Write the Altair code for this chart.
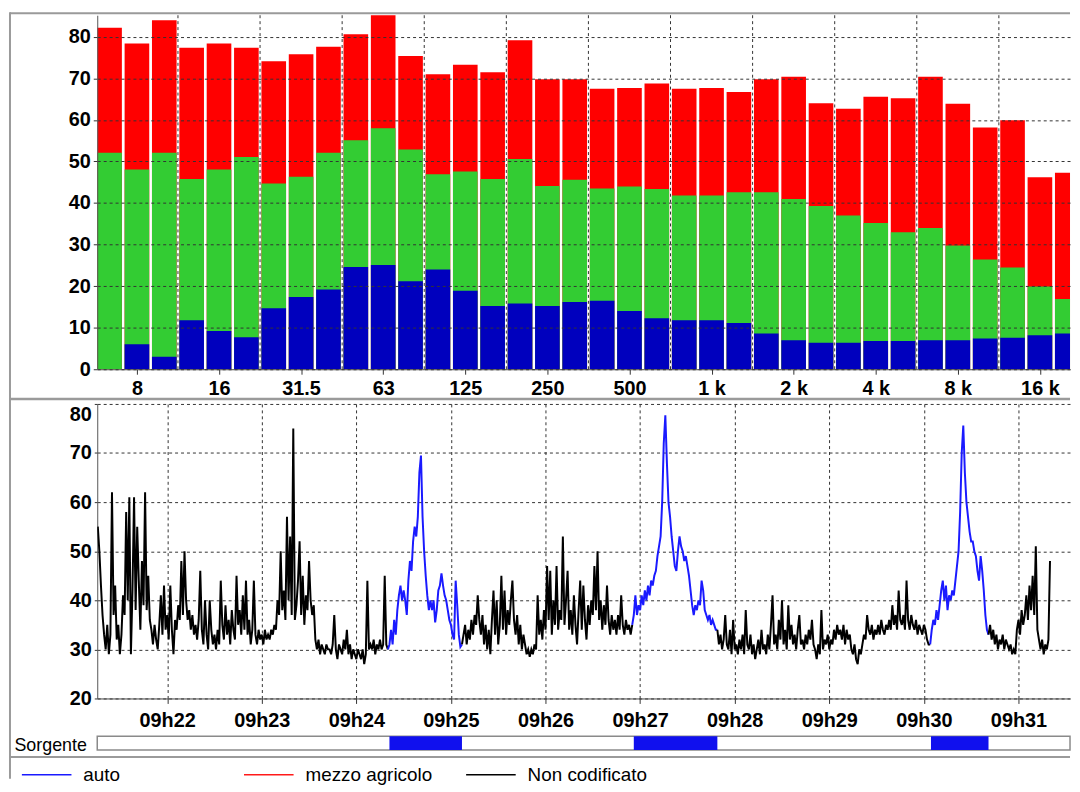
import json
import altair as alt
import pandas as pd

FONT = "Liberation Sans"
FRAME = "#9a9a9a"
GRID = "#333333"

# ---------------- top panel: 1/3 octave spectrum ----------------
band_labels = ["6.3", "8", "10", "12.5", "16", "20", "25", "31.5", "40", "50", "63", "80",
               "100", "125", "160", "200", "250", "315", "400", "500", "630", "800", "1 k",
               "1.25 k", "1.6 k", "2 k", "2.5 k", "3.15 k", "4 k", "5 k", "6.3 k", "8 k",
               "10 k", "12.5 k", "16 k", "20 k"]
spectrum_red = [82.2, 78.4, 84.0, 77.4, 78.4, 77.4, 74.1, 75.8, 77.6, 80.6, 86.0, 75.4,
                71.0, 73.3, 71.5, 79.2, 69.8, 69.8, 67.5, 67.7, 68.8, 67.5, 67.7, 66.7,
                69.8, 70.4, 64.0, 62.7, 65.6, 65.2, 70.4, 63.9, 58.2, 59.9, 46.2, 47.3]
spectrum_green = [52.1, 48.1, 52.1, 45.8, 48.1, 51.1, 44.7, 46.3, 52.1, 55.1, 58.0, 52.9,
                  46.9, 47.6, 45.8, 50.6, 44.1, 45.6, 43.5, 44.0, 43.4, 41.8, 41.8, 42.6,
                  42.6, 41.0, 39.3, 37.0, 35.2, 33.0, 34.0, 29.8, 26.4, 24.5, 19.9, 16.9]
spectrum_blue = [0.0, 6.0, 3.0, 11.8, 9.2, 7.7, 14.7, 17.4, 19.2, 24.6, 25.1, 21.2,
                 24.0, 18.9, 15.2, 15.8, 15.2, 16.2, 16.5, 14.0, 12.3, 11.8, 11.8, 11.1,
                 8.6, 7.0, 6.4, 6.4, 6.8, 6.8, 7.0, 7.0, 7.4, 7.6, 8.2, 8.6]
tick_index = [1, 4, 7, 10, 13, 16, 19, 22, 25, 28, 31, 34]
group_grid = [2.5, 5.5, 8.5, 11.5, 14.5, 17.5, 20.5, 23.5, 26.5, 29.5, 32.5]
spec_y_ticks = [0, 10, 20, 30, 40, 50, 60, 70, 80]

# ---------------- bottom panel: time history (1 s, from 09:21:16) ----------------
start_s = 16
level_db = [
    55, 50, 43, 37, 33, 30, 35, 29, 33, 62,
    37, 43, 32, 35, 29, 33, 41, 37, 58, 40,
    61, 29, 42, 61, 38, 55, 44, 34, 48, 39,
    62, 38, 45, 36, 34, 31, 35, 32, 30, 35,
    41, 33, 43, 34, 37, 32, 43, 34, 29, 36,
    34, 39, 36, 48, 37, 50, 40, 36, 38, 34,
    37, 33, 35, 32, 36, 46, 34, 31, 40, 33,
    30, 40, 34, 31, 33, 30, 34, 31, 44, 35,
    32, 39, 33, 36, 31, 38, 34, 32, 45, 35,
    38, 33, 41, 34, 44, 33, 36, 31, 34, 44,
    33, 31, 34, 32, 33, 31, 34, 32, 33, 32,
    34, 33, 35, 34, 40, 37, 50, 38, 42, 36,
    57, 40, 53, 37, 75, 36, 39, 44, 52, 37,
    45, 35, 41, 38, 48, 40, 37, 39, 32, 30,
    32, 29, 31, 30, 29, 31, 30, 30, 29, 31,
    37, 30, 28, 31, 30, 29, 32, 30, 34, 29,
    31, 28, 30, 29, 28, 30, 29, 28, 30, 27,
    29, 44, 30, 31, 30, 32, 29, 31, 30, 32,
    30, 31, 45, 31, 30, 31, 34, 31, 36, 33,
    38, 41, 43, 40, 42, 40, 37, 44, 48, 46,
    52, 55, 53, 57, 66, 69.5, 57, 50, 45, 41,
    38, 40, 38, 40, 35.5, 38, 42, 43, 45.5, 43,
    41, 40, 38, 36, 35, 33, 32, 44, 39, 33,
    30.5, 31, 33, 35, 31, 34, 32, 36, 33, 37,
    35, 41, 36, 33, 37, 31, 35, 30, 34, 29,
    36, 42, 33, 40, 31, 35, 45, 34, 42, 33,
    38, 35, 40, 44, 36, 33, 37, 31, 35, 30,
    33, 31, 29, 30, 28.5, 30, 29, 31, 30, 41,
    33, 36, 32, 38, 34, 47, 36, 46, 33, 40,
    35, 47, 34, 38, 36, 53, 35, 40, 46, 34,
    38, 33, 41, 35, 31, 38, 44, 34, 43, 36,
    32, 39, 35, 40, 37, 47, 38, 50, 36, 40,
    34, 39, 35, 43, 36, 33, 37, 34, 36, 33,
    37, 34, 41, 35, 33, 36, 34, 35, 33, 35,
    37, 41, 37, 39, 38, 41, 39, 42, 40, 43,
    41, 44, 43, 45, 46, 49, 51, 53, 60, 72,
    77.7, 68, 60, 57, 53, 50, 47, 46, 50, 53,
    51, 50, 48, 49, 47, 45, 42, 39, 37, 39,
    38, 40, 39, 44, 42, 38, 37, 36, 37, 35,
    36, 35, 34, 34, 31, 33, 30, 32, 37, 31,
    30, 34, 29, 36, 30, 31, 29, 32, 30, 33,
    29, 38, 31, 30, 33, 29, 31, 28, 30, 32,
    29, 34, 30, 31, 29, 33, 30, 35, 41, 31,
    33, 30, 36, 32, 40, 31, 34, 30, 39, 32,
    35, 31, 33, 30, 34, 37, 31, 32, 30, 33,
    31, 34, 32, 36, 31, 30, 28, 31, 29, 38,
    30, 32, 31, 33, 30, 32, 31, 34, 32, 35,
    33, 34, 32, 35, 31, 34, 32, 33, 30, 29,
    31, 28, 27, 30, 29, 31, 33, 32, 37, 34,
    33, 35, 32, 34, 33, 35, 33, 36, 34, 33,
    35, 34, 36, 34, 39, 35, 37, 34, 42, 36,
    35, 37, 34, 44, 36, 34, 37, 35, 34, 36,
    33, 35, 34, 33, 35, 34, 32, 31, 31, 34,
    36, 35, 38, 36, 39, 42, 44, 40, 43, 38,
    41, 40, 42, 41, 44, 47, 50, 58, 70, 75.6,
    66, 60, 57, 54, 52, 52, 50, 49, 46, 44,
    49, 46, 42, 37, 34, 33, 35, 32, 34, 31,
    33, 30, 32, 31, 33, 30, 32, 31, 30, 31,
    29, 30, 29, 34, 36, 33, 38, 35, 37, 41,
    36, 43, 38, 45, 37, 51, 34, 32, 30, 32,
    29, 31, 30, 32, 48,
]
auto_start = [201, 356, 544.5]
auto_end = [247, 409, 581]
minute_ticks = [60, 120, 180, 240, 300, 360, 420, 480, 540, 600]
time_y_ticks = [20, 30, 40, 50, 60, 70, 80]
source_names = ["auto", "mezzo agricolo", "Non codificato"]
source_colors = ["#1a1aff", "#ff1a1a", "#000000"]

W = 981
TOP_H = 357
LINE_H = 297
STRIP_H = 14
T_DOMAIN = [15.65, 632.7]

one = alt.Data(values=[{}])

# ---------------- top chart ----------------
spec_df = pd.DataFrame({
    "band": band_labels,
    "idx": list(range(len(band_labels))),
    "red": spectrum_red,
    "green": spectrum_green,
    "blue": spectrum_blue,
})

x_scale_top = alt.Scale(domain=[-0.45, 35.1], nice=False, zero=False)
x_axis_top = alt.Axis(values=tick_index,
                      labelExpr=json.dumps(band_labels) + "[round(datum.value)]",
                      grid=False, tickSize=5, labelPadding=4, title=None,
                      domainColor="#444", tickColor="#333", labelFlush=False,
                      labelOverlap=False)
y_scale_top = alt.Scale(domain=[0, 85.2], nice=False, zero=True)
y_axis_top = alt.Axis(values=spec_y_ticks, grid=True, gridDash=[3, 3], gridColor=GRID,
                      gridWidth=1, tickSize=4, labelPadding=3, title=None, zindex=1,
                      domainColor="#555", tickColor="#333")

base = alt.Chart(spec_df).transform_calculate(
    x0="datum.idx - 0.45", x1="datum.idx + 0.45"
)


def bar_layer(field, color):
    return base.mark_bar(color=color, clip=True).encode(
        x=alt.X("x0:Q", scale=x_scale_top, axis=x_axis_top),
        x2="x1:Q",
        y=alt.Y(f"{field}:Q", scale=y_scale_top, axis=y_axis_top),
        y2=alt.datum(0),
    )


vgrid = alt.Chart(pd.DataFrame({"g": group_grid})).mark_rule(
    color=GRID, strokeDash=[3, 3], strokeWidth=1
).encode(x=alt.X("g:Q", scale=x_scale_top, axis=x_axis_top))

frame_top = alt.Chart(one).mark_rule(color=FRAME, strokeWidth=2).encode(
    x=alt.value(-88), x2=alt.value(W), y=alt.value(-2))
frame_left = alt.Chart(one).mark_rule(color=FRAME, strokeWidth=2).encode(
    x=alt.value(-88), y=alt.value(-3), y2=alt.value(770))

top = alt.layer(
    bar_layer("red", "#ff0000"),
    bar_layer("green", "#33cc33"),
    bar_layer("blue", "#0000be"),
    vgrid, frame_top, frame_left,
).properties(width=W, height=TOP_H)

# ---------------- line chart ----------------
times = [start_s + i for i in range(len(level_db))]


def source_of(t):
    for a, b in zip(auto_start, auto_end):
        if a <= t <= b:
            return "auto"
    return "Non codificato"


rows = []
seg = 0
prev = None
for i, (t, v) in enumerate(zip(times, level_db)):
    s = source_of(t)
    if prev is not None and s != prev:
        seg += 1
        rows.append({"t": times[i - 1], "v": level_db[i - 1], "src": s, "seg": seg})
    rows.append({"t": t, "v": v, "src": s, "seg": seg})
    prev = s
line_df = pd.DataFrame(rows)

line = alt.Chart(line_df).mark_line(strokeWidth=2.0, clip=True).encode(
    x=alt.X("t:Q", scale=alt.Scale(domain=T_DOMAIN, nice=False, zero=False),
            axis=alt.Axis(values=minute_ticks,
                          labelExpr="'09h' + (21 + datum.value/60)",
                          grid=True, gridDash=[3, 3], gridColor=GRID, gridWidth=1,
                          tickSize=5, labelPadding=7, title=None,
                          domainColor="#444", tickColor="#333")),
    y=alt.Y("v:Q", scale=alt.Scale(domain=[20, 80], nice=False, zero=False),
            axis=alt.Axis(values=time_y_ticks, grid=True, gridDash=[3, 3],
                          gridColor=GRID, gridWidth=1, tickSize=3, labelPadding=3,
                          title=None, domainColor="#555", tickColor="#333",
                          labelOffset=alt.condition("datum.value == 80",
                                                    alt.value(11), alt.value(0)))),
    color=alt.Color("src:N",
                    scale=alt.Scale(domain=source_names, range=source_colors),
                    legend=alt.Legend(orient="none", legendX=-77, legendY=348,
                                      direction="horizontal", columns=3,
                                      gridAlign="all", columnPadding=30,
                                      symbolType="stroke", symbolSize=2500,
                                      symbolStrokeWidth=1.6, labelFont=FONT,
                                      labelFontSize=19, labelColor="black",
                                      labelOffset=11, labelLimit=400, title=None)),
    detail="seg:N",
)

sep_mid = alt.Chart(one).mark_rule(color=FRAME, strokeWidth=2.5).encode(
    x=alt.value(-88), x2=alt.value(W), y=alt.value(-5))

line_chart = alt.layer(line, sep_mid).properties(width=W, height=LINE_H)

# ---------------- source strip ----------------
strip_df = pd.DataFrame({"start": auto_start, "end": auto_end,
                         "lane": ["Sorgente"] * len(auto_start)})
strip_bars = alt.Chart(strip_df).mark_bar(color="#1010ee").encode(
    x=alt.X("start:Q", scale=alt.Scale(domain=T_DOMAIN, nice=False, zero=False),
            axis=None),
    x2="end:Q",
    y=alt.Y("lane:N", scale=alt.Scale(paddingInner=0, paddingOuter=0),
            axis=alt.Axis(title=None, ticks=False, domain=False, labelFontSize=18,
                          labelFontWeight="normal", labelPadding=11,
                          labelOffset=3, labelColor="black")),
)
sep_low = alt.Chart(one).mark_rule(color=FRAME, strokeWidth=2).encode(
    x=alt.value(-88), x2=alt.value(W), y=alt.value(21))

strip = alt.layer(strip_bars, sep_low).properties(
    width=W, height=STRIP_H,
    view=alt.ViewBackground(stroke="#8a8a8a", strokeWidth=1.5, fill="white"),
)

lower = alt.vconcat(line_chart, strip, spacing=38, bounds="flush").resolve_legend(
    color="independent").resolve_scale(x="independent", y="independent")

chart = alt.vconcat(top, lower, spacing=35, bounds="flush").resolve_legend(
    color="independent").resolve_scale(x="independent", y="independent").properties(
    padding=0, background="white"
).configure_view(stroke=None).configure_axis(
    labelFont=FONT, labelFontSize=20, labelFontWeight="bold", labelColor="black"
)

chart.save("out.html", embed_options={"renderer": "svg", "actions": False})
